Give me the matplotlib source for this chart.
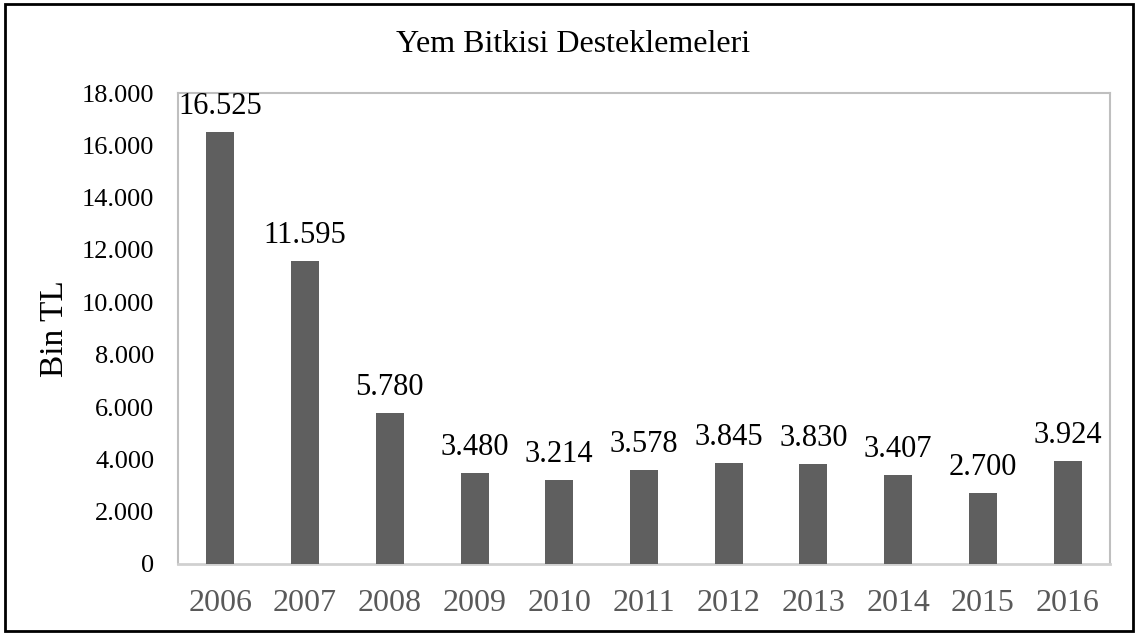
import matplotlib
matplotlib.use("Agg")
import matplotlib.pyplot as plt
from matplotlib.patches import Rectangle
from matplotlib.ticker import FuncFormatter

years = ["2006", "2007", "2008", "2009", "2010", "2011", "2012", "2013", "2014", "2015", "2016"]
values = [16525, 11595, 5780, 3480, 3214, 3578, 3845, 3830, 3407, 2700, 3924]
labels = ["16.525", "11.595", "5.780", "3.480", "3.214", "3.578", "3.845", "3.830", "3.407", "2.700", "3.924"]

plt.rcParams['font.family'] = ['Liberation Serif', 'DejaVu Serif']

fig = plt.figure(figsize=(11.4, 6.34), dpi=100)
ax = fig.add_axes([178/1140, 1-564/634, 932/1140, 471/634])

x = range(len(years))
ax.bar(x, values, width=0.33, color="#5f5f5f", zorder=3)
for i, (v, lab) in enumerate(zip(values, labels)):
    ax.annotate(lab, (i, v), xytext=(0, 13), textcoords="offset points",
                ha="center", va="baseline", fontsize=22, color="black")

ax.set_xlim(-0.5, len(years) - 0.5)
ax.set_ylim(0, 18000)
ax.set_yticks(range(0, 18001, 2000))
ax.yaxis.set_major_formatter(FuncFormatter(lambda v, p: "0" if v == 0 else f"{int(v):,}".replace(",", ".")))
ax.set_xticks(list(x))
ax.set_xticklabels(years)
ax.tick_params(axis="x", length=0, labelsize=23, labelcolor="#595959", pad=18)
ax.tick_params(axis="y", length=0, labelsize=19, labelcolor="black", pad=17)
for s in ax.spines.values():
    s.set_color("#BFBFBF")
    s.set_linewidth(1.5)
ax.spines["bottom"].set_color("#D0D0D0")
ax.spines["bottom"].set_linewidth(2)

ax.set_ylabel("Bin TL", fontsize=24)
ax.yaxis.set_label_coords(-(178 - 70) / 932, 0.5)
fig.text(573/1140, 1-45/634, "Yem Bitkisi Desteklemeleri", ha="center", va="center", fontsize=23)

fig.patches.append(Rectangle((5/1140, 3/634), 1128/1140, 627/634, transform=fig.transFigure,
                             fill=False, edgecolor="black", linewidth=2))

fig.savefig("out.png", dpi=100)
